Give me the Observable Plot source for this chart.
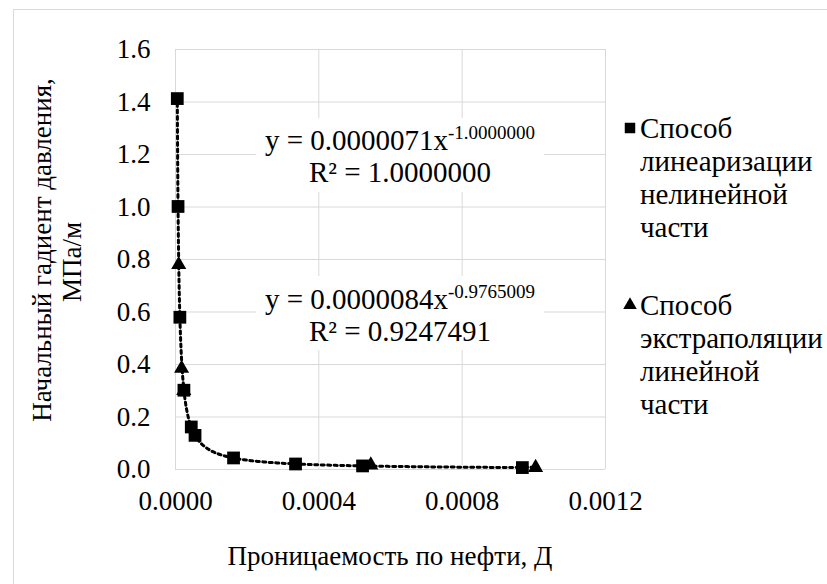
<!DOCTYPE html>
<html>
<head>
<meta charset="utf-8">
<script src="https://cdn.jsdelivr.net/npm/d3@7"></script>
<script src="https://cdn.jsdelivr.net/npm/@observablehq/plot@0.6"></script>
<style>
  html, body { margin: 0; padding: 0; background: #fff; }
  #wrap { position: relative; width: 827px; height: 584px; overflow: hidden; }
  #wrap svg { position: absolute; left: 0; top: 0; }
</style>
</head>
<body>
<div id="wrap"></div>
<script>
// Series 1: "Способ линеаризации нелинейной части" (squares)
const linX = [0.0000050, 0.0000071, 0.0000122, 0.0000235, 0.0000440, 0.0000545, 0.000162, 0.000335, 0.000522, 0.000968];
const linY = [1.413, 1.002, 0.580, 0.302, 0.162, 0.130, 0.044, 0.021, 0.0136, 0.0073];
// Series 2: "Способ экстраполяции линейной части" (triangles)
const extX = [0.0000090, 0.0000170, 0.0000230, 0.000545, 0.001005];
const extY = [0.780, 0.385, 0.300, 0.017, 0.0075];

const xTicks = [0, 0.0004, 0.0008, 0.0012];
const yTicks = [0, 0.2, 0.4, 0.6, 0.8, 1.0, 1.2, 1.4, 1.6];

const xTitle = "Проницаемость по нефти, Д";
const yTitle1 = "Начальный гадиент давления,";
const yTitle2 = "МПа/м";
const legend1 = ["Способ", "линеаризации", "нелинейной", "части"];
const legend2 = ["Способ", "экстраполяции", "линейной", "части"];
const eq1 = ["y = 0.0000071x", "-1.0000000", "R² = 1.0000000"];
const eq2 = ["y = 0.0000084x", "-0.9765009", "R² = 0.9247491"];

const FONT = "Liberation Serif";
const FS = 27;

const lin = linX.map((x, i) => ({x, y: linY[i]}));
const ext = extX.map((x, i) => ({x, y: extY[i]}));

// Power trendline fitted (least squares in log-log space) to the read points
function powerTrend(pts) {
  const lx = pts.map(p => Math.log(p.x)), ly = pts.map(p => Math.log(p.y));
  const mx = d3.mean(lx), my = d3.mean(ly);
  const b = d3.sum(lx, (v, i) => (v - mx) * (ly[i] - my)) / d3.sum(lx, v => (v - mx) ** 2);
  const a = Math.exp(my - b * mx);
  const [x0, x1] = d3.extent(pts, p => p.x);
  return d3.range(0, 301).map(k => {
    const x = Math.exp(Math.log(x0) + (Math.log(x1) - Math.log(x0)) * k / 300);
    return {x, y: a * Math.pow(x, b)};
  });
}
const linTrend = powerTrend(lin);
const linMax = d3.max(linX);
// the two fitted curves coincide visually; only the tail of the second one shows separately
const extTrend = powerTrend(ext).filter(d => d.x >= linMax);

const chart = Plot.plot({
  width: 827,
  height: 584,
  marginLeft: 175,
  marginRight: 222,
  marginTop: 49,
  marginBottom: 115,
  style: {fontFamily: FONT, fontSize: FS + "px", color: "#000", background: "transparent"},
  x: {domain: [0, 0.0012], ticks: xTicks, tickFormat: d3.format(".4f"), tickSize: 0, tickPadding: 21, label: null},
  y: {domain: [0, 1.6], ticks: yTicks, tickFormat: d3.format(".1f"), tickSize: 0, tickPadding: 25, label: null},
  marks: [
    Plot.ruleX(xTicks, {stroke: "#d9d9d9", strokeWidth: 1}),
    Plot.ruleY(yTicks, {stroke: "#d9d9d9", strokeWidth: 1}),
    Plot.line(linTrend, {x: "x", y: "y", stroke: "#000", strokeWidth: 3, strokeDasharray: "3 3.5"}),
    Plot.line(extTrend, {x: "x", y: "y", stroke: "#000", strokeWidth: 3, strokeDasharray: "3 3.5"}),
    Plot.dot(lin, {x: "x", y: "y", symbol: "square", r: 7.2, fill: "#000", stroke: "none"}),
    Plot.dot(ext, {x: "x", y: "y", symbol: "triangle", r: 5.6, fill: "#000", stroke: "none"})
  ]
});
document.getElementById("wrap").appendChild(chart);

// Overlay: chart border, titles, trendline labels, legend
const ov = d3.select("#wrap").append("svg")
  .attr("width", 827).attr("height", 584)
  .attr("font-family", FONT).attr("font-size", FS);

ov.append("rect").attr("x", 13.5).attr("y", 9.5).attr("width", 900).attr("height", 700)
  .attr("fill", "none").attr("stroke", "#d9d9d9").attr("stroke-width", 1);

// y title
ov.append("text").attr("transform", "translate(42,250) rotate(-90)")
  .attr("text-anchor", "middle").attr("dy", "0.35em").text(yTitle1);
ov.append("text").attr("transform", "translate(72,262) rotate(-90)")
  .attr("text-anchor", "middle").attr("dy", "0.35em").text(yTitle2);
// x title
ov.append("text").attr("x", 390).attr("y", 556).attr("text-anchor", "middle")
  .attr("dy", "0.35em").text(xTitle);

// trendline labels
function eqLabel(lines, top, cy1, cy2) {
  ov.append("rect").attr("x", 256).attr("y", top).attr("width", 288).attr("height", 74).attr("fill", "#fff");
  const t = ov.append("text").attr("x", 400).attr("y", cy1).attr("dy", "0.35em")
    .attr("text-anchor", "middle").attr("font-size", 29);
  t.append("tspan").text(lines[0]);
  t.append("tspan").attr("dy", "-0.6em").attr("font-size", 19).text(lines[1]);
  ov.append("text").attr("x", 400).attr("y", cy2).attr("dy", "0.35em")
    .attr("text-anchor", "middle").attr("font-size", 29).text(lines[2]);
}
eqLabel(eq1, 118, 140, 172);
eqLabel(eq2, 276, 299, 331);

// legend
function legendEntry(lines, y0, sym) {
  const g = ov.append("g").attr("font-size", 29);
  g.append("path").attr("transform", `translate(630,${y0})`)
    .attr("d", d3.symbol(sym === "square" ? d3.symbolSquare : d3.symbolTriangle, sym === "square" ? 110 : 80)())
    .attr("fill", "#000");
  lines.forEach((s, i) => {
    g.append("text").attr("x", 640).attr("y", y0 + i * 33).attr("dy", "0.35em").text(s);
  });
}
legendEntry(legend1, 128, "square");
legendEntry(legend2, 305, "triangle");
</script>
</body>
</html>
